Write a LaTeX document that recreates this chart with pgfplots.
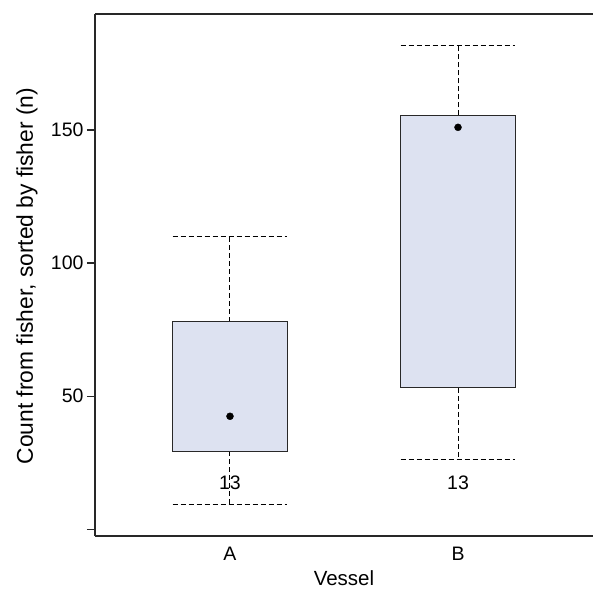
\documentclass[border=0pt]{standalone}
\usepackage{pgfplots}
\pgfplotsset{compat=1.18}
\usepackage{fontspec}
\setmainfont{Liberation Sans}
\definecolor{boxfill}{RGB}{221,226,241}
\definecolor{frame}{RGB}{40,40,40}
\begin{document}
\begin{tikzpicture}
\begin{axis}[
  scale only axis, width=498pt, height=522pt,
  xmin=0.408, xmax=2.592, ymin=-2.6, ymax=193.6,
  axis x line*=bottom, axis y line*=left,
  axis line style={frame, line width=1.3pt},
  tick align=outside,
  major tick length=8pt,
  ytick={0,50,100,150}, yticklabels={,50,100,150},
  xtick={1,2}, xticklabels={A,B},
  x tick style={draw=none},
  y tick style={frame, line width=1.1pt},
  tick label style={font=\fontsize{19.5}{23}\selectfont},
  /pgf/number format/assume math mode=true,
  xlabel={Vessel},
  ylabel={Count from fisher, sorted by fisher (n)},
  every axis x label/.style={at={(rel axis cs:0.5,0)}, yshift=-42pt, anchor=center, font=\fontsize{20.5}{24}\selectfont},
  every axis y label/.style={at={(rel axis cs:0,0.5)}, xshift=-68pt, yshift=-1pt, rotate=90, anchor=center, font=\fontsize{22.8}{26}\selectfont},
  wh/.style={black, line width=1pt, dash pattern=on 5pt off 3pt},
]
% A
\addplot[wh] coordinates {(1,77.9) (1,109.8)};
\addplot[wh] coordinates {(0.748,109.8) (1.252,109.8)};
\addplot[wh] coordinates {(1,29.3) (1,9.3)};
\addplot[wh] coordinates {(0.748,9.3) (1.252,9.3)};
\addplot[fill=boxfill, draw=frame, line width=1.1pt] coordinates {(0.748,29.3) (1.252,29.3) (1.252,77.9) (0.748,77.9)} -- cycle;
\addplot[only marks, mark=*, mark size=3.5pt, black] coordinates {(1,42.4)};
% B
\addplot[wh] coordinates {(2,155.5) (2,181.7)};
\addplot[wh] coordinates {(1.748,181.7) (2.252,181.7)};
\addplot[wh] coordinates {(2,53.1) (2,26.2)};
\addplot[wh] coordinates {(1.748,26.2) (2.252,26.2)};
\addplot[fill=boxfill, draw=frame, line width=1.1pt] coordinates {(1.748,53.1) (2.252,53.1) (2.252,155.5) (1.748,155.5)} -- cycle;
\addplot[only marks, mark=*, mark size=3.5pt, black] coordinates {(2,151.0)};
\node[font=\fontsize{19.5}{23}\selectfont] at (axis cs:1,17.3) {13};
\node[font=\fontsize{19.5}{23}\selectfont] at (axis cs:2,17.3) {13};
\draw[frame, line width=1.3pt] (rel axis cs:0,1) -- (rel axis cs:1,1);
\coordinate (ll) at (rel axis cs:0,0);
\coordinate (ur) at (rel axis cs:1,1);
\end{axis}
\pgfresetboundingbox
\path ([shift={(-95pt,-55pt)}]ll) rectangle ([shift={(0pt,14pt)}]ur);
\end{tikzpicture}
\end{document}
